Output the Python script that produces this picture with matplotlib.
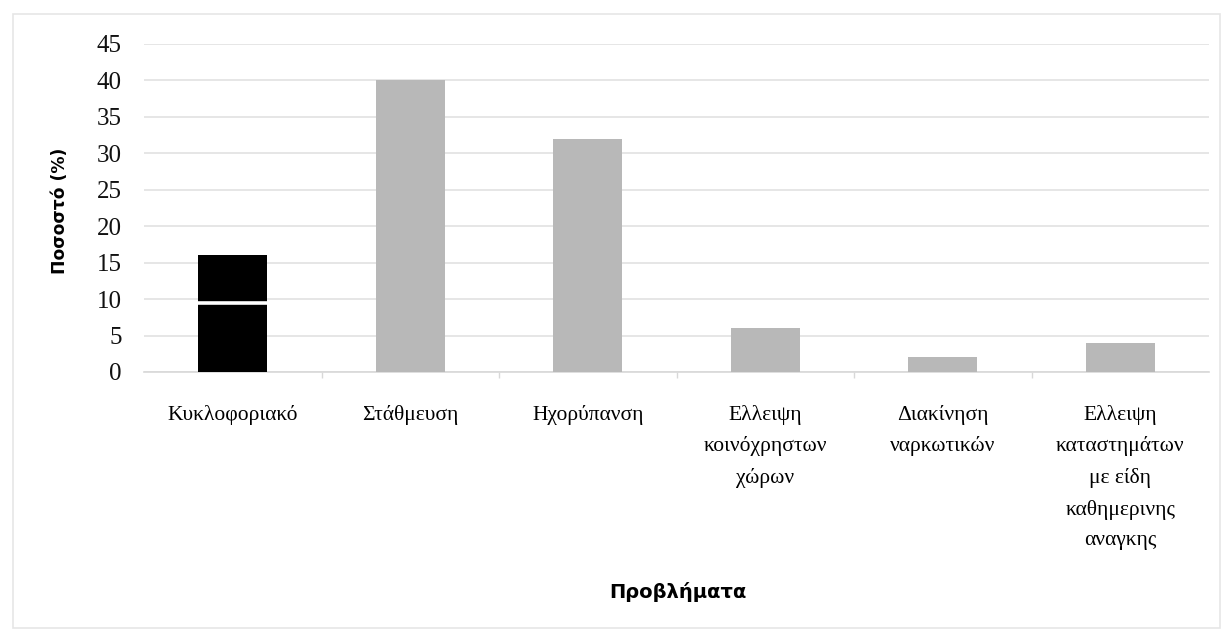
import matplotlib
matplotlib.use("Agg")
import matplotlib.pyplot as plt
from matplotlib.patches import Rectangle

# Survey data: reported neighbourhood problems (% of respondents)
categories = [
    "Κυκλοφοριακό",
    "Στάθμευση",
    "Ηχορύπανση",
    "Ελλειψη\nκοινόχρηστων\nχώρων",
    "Διακίνηση\nναρκωτικών",
    "Ελλειψη\nκαταστημάτων\nμε είδη\nκαθημερινης\nαναγκης",
]
values = [16, 40, 32, 6, 2, 4]
bar_colors = ["#000000", "#b8b8b8", "#b8b8b8", "#b8b8b8", "#b8b8b8", "#b8b8b8"]
y_ticks = [0, 5, 10, 15, 20, 25, 30, 35, 40, 45]
white_band_level = 9.45  # white stripe across the first bar

W, H = 1228, 631
fig = plt.figure(figsize=(W / 100, H / 100), dpi=100)
fig.patch.set_facecolor("white")

left, right, top, bottom = 144, 1209, 44, 372
ax = fig.add_axes([left / W, 1 - bottom / H, (right - left) / W, (bottom - top) / H])

x = list(range(len(categories)))
bar_w = 0.39
ax.bar(x, values, width=bar_w, color=bar_colors, zorder=3)
ax.hlines(white_band_level, x[0] - bar_w / 2, x[0] + bar_w / 2,
          color="white", linewidth=2.6, zorder=4)

ax.set_xlim(-0.5, len(categories) - 0.5)
ax.set_ylim(0, 45)
ax.set_yticks(y_ticks)
ax.yaxis.grid(True, color="#e2e2e2", linewidth=1.2, zorder=0)
ax.set_axisbelow(True)

serif = ["Liberation Serif", "DejaVu Serif"]
ax.set_yticklabels([str(v) for v in y_ticks], fontfamily=serif, fontsize=18,
                   color="#111111")
ax.tick_params(axis="y", length=0, pad=16)

ax.set_xticks([i - 0.5 for i in range(1, len(categories))], minor=False)
ax.set_xticklabels([])
ax.tick_params(axis="x", which="major", direction="out", length=4,
               color="#d8d8d8", width=1)
for i, lab in enumerate(categories):
    ax.text(i, -4.5, lab, ha="center", va="top", fontfamily=serif,
            fontsize=15.5, linespacing=1.78, color="#000000")

for s in ["top", "right", "left"]:
    ax.spines[s].set_visible(False)
ax.spines["bottom"].set_color("#d8d8d8")
ax.spines["bottom"].set_linewidth(1.2)

sans = ["DejaVu Sans"]
fig.text(60 / W, 1 - 211 / H, "Ποσοστό (%)", rotation=90, ha="center",
         va="center", fontfamily=sans, fontweight="bold", fontsize=12.3)
fig.text(678 / W, 1 - 592 / H, "Προβλήματα", ha="center", va="center",
         fontfamily=sans, fontweight="bold", fontsize=14)

# faint chart-area frame
fig.patches.append(Rectangle((13 / W, 3 / H), (1220 - 13) / W, (617 - 3) / H,
                             transform=fig.transFigure, fill=False,
                             edgecolor="#e6e6e6", linewidth=1.2))

fig.savefig("out.png", dpi=100, facecolor="white")
